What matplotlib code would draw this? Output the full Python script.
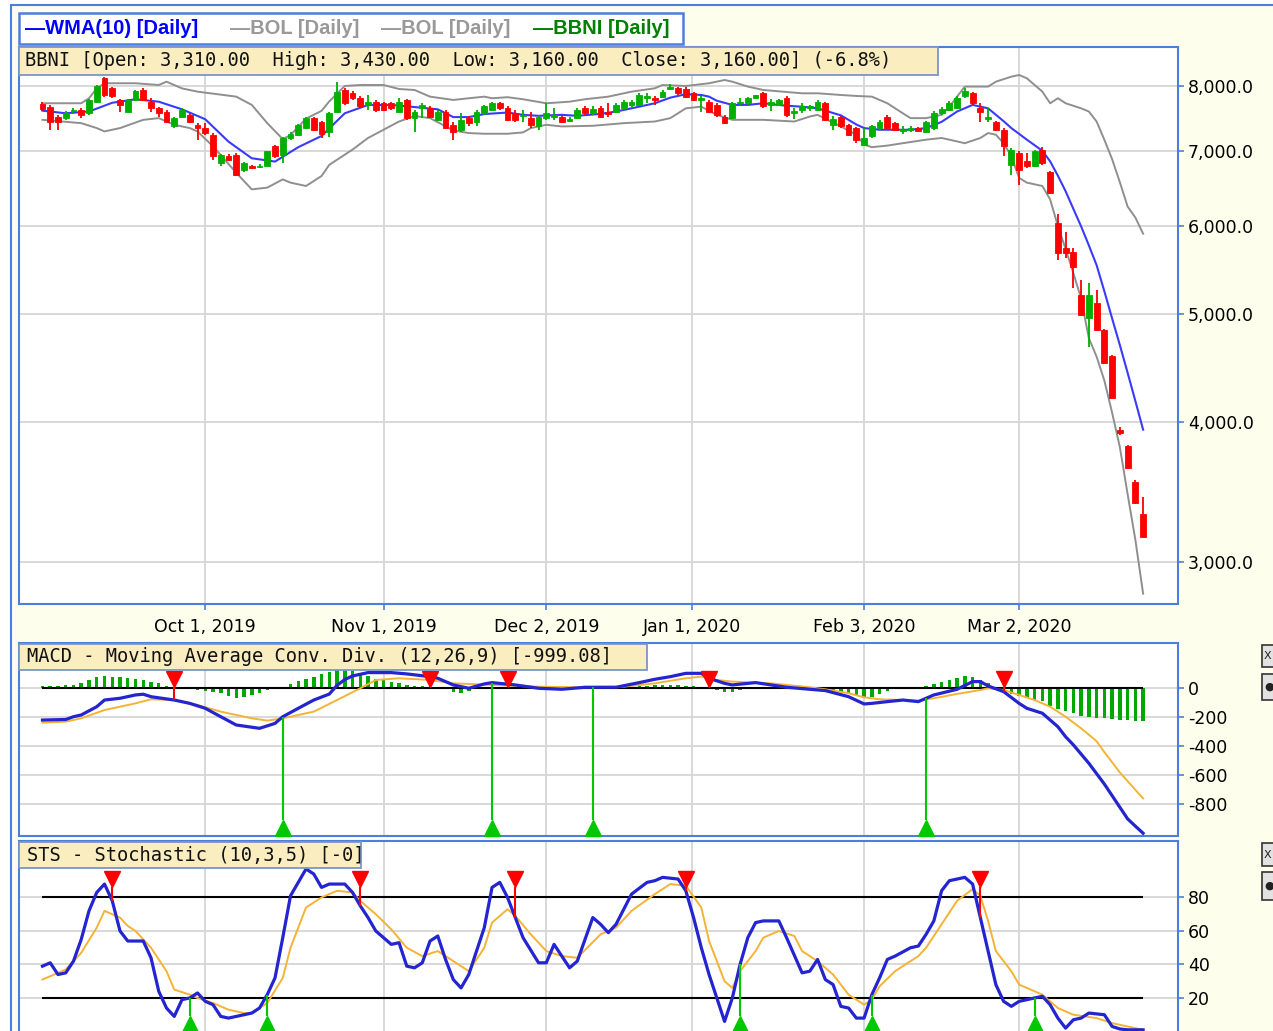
import numpy as np
import matplotlib
matplotlib.use("Agg")
import matplotlib.pyplot as plt
from matplotlib.patches import Rectangle
from matplotlib.ticker import NullLocator

W, H = 1273, 1031

# ---- daily candles (BBNI), one per trading day ----
opens = [7710, 7660, 7510, 7490, 7600, 7615, 7570, 7745, 8130, 7960,
         7770, 7590, 7770, 7930, 7745, 7640, 7590, 7360, 7510, 7540,
         7385, 7335, 7235, 6830, 6920, 6945, 6735, 6790, 6770, 6785,
         7070, 6945, 7180, 7235, 7335, 7490, 7430, 7280, 7590, 7935,
         7880, 7800, 7700, 7745, 7720, 7720, 7590, 7770, 7490, 7650,
         7645, 7460, 7590, 7385, 7310, 7490, 7430, 7570, 7615, 7720,
         7645, 7570, 7520, 7490, 7360, 7490, 7510, 7510, 7440, 7490,
         7645, 7570, 7645, 7580, 7590, 7640, 7700, 7695, 7800, 7800,
         7820, 7950, 7960, 7950, 7880, 7780, 7745, 7695, 7510, 7490,
         7720, 7720, 7810, 7880, 7700, 7700, 7800, 7560, 7620, 7640,
         7620, 7720, 7385, 7510, 7385, 7335, 7090, 7220, 7335, 7510,
         7410, 7290, 7300, 7330, 7280, 7335, 7570, 7615, 7645, 7830,
         7880, 7645, 7480, 7430, 7310, 6800, 6970, 6860, 6790, 7015,
         6700, 6030, 5730, 5680, 5200, 4960, 5110, 4840, 4590, 3940,
         3810, 3540, 3310]
highs = [7740, 7690, 7540, 7600, 7650, 7640, 7790, 8020, 8155, 7990,
         7790, 7790, 7930, 7960, 7800, 7665, 7610, 7510, 7650, 7560,
         7410, 7410, 7260, 6960, 6950, 6970, 6840, 6800, 6810, 7000,
         7090, 7200, 7270, 7400, 7510, 7510, 7450, 7580, 8070, 7960,
         7910, 7830, 7850, 7770, 7740, 7740, 7805, 7790, 7610, 7730,
         7680, 7610, 7610, 7430, 7570, 7520, 7615, 7700, 7745, 7740,
         7670, 7615, 7615, 7590, 7540, 7720, 7645, 7540, 7510, 7640,
         7670, 7670, 7670, 7720, 7720, 7770, 7770, 7880, 7880, 7830,
         7930, 8030, 7990, 7980, 7900, 7830, 7770, 7720, 7530, 7740,
         7800, 7820, 7860, 7900, 7790, 7790, 7830, 7650, 7720, 7700,
         7770, 7740, 7520, 7540, 7400, 7350, 7335, 7385, 7460, 7540,
         7430, 7360, 7360, 7350, 7450, 7600, 7660, 7750, 7830, 7960,
         7900, 7720, 7645, 7450, 7335, 7040, 7000, 6970, 7010, 7050,
         6720, 6140, 5920, 5730, 5360, 5330, 5250, 4850, 4600, 3960,
         3820, 3550, 3430]
lows = [7600, 7310, 7300, 7460, 7550, 7490, 7540, 7730, 7820, 7800,
        7590, 7580, 7760, 7760, 7590, 7510, 7410, 7335, 7490, 7410,
        7160, 7235, 6875, 6785, 6860, 6640, 6700, 6740, 6760, 6780,
        6900, 6830, 7160, 7220, 7320, 7290, 7180, 7200, 7580, 7700,
        7780, 7650, 7615, 7590, 7600, 7620, 7580, 7460, 7280, 7490,
        7490, 7440, 7320, 7160, 7280, 7360, 7360, 7540, 7600, 7620,
        7440, 7430, 7430, 7335, 7310, 7460, 7460, 7410, 7430, 7470,
        7540, 7540, 7490, 7510, 7570, 7620, 7650, 7680, 7720, 7700,
        7800, 7940, 7860, 7800, 7760, 7590, 7570, 7510, 7390, 7470,
        7700, 7700, 7800, 7650, 7600, 7680, 7510, 7480, 7570, 7600,
        7600, 7440, 7310, 7330, 7210, 7110, 7070, 7180, 7310, 7320,
        7290, 7250, 7270, 7280, 7260, 7310, 7540, 7600, 7630, 7810,
        7700, 7430, 7430, 7290, 6920, 6665, 6530, 6750, 6770, 6800,
        6400, 5590, 5610, 5280, 4980, 4670, 4830, 4510, 4200, 3900,
        3630, 3380, 3160]
closes = [7630, 7430, 7430, 7570, 7615, 7540, 7770, 8000, 7850, 7830,
          7690, 7770, 7910, 7770, 7640, 7560, 7430, 7490, 7615, 7430,
          7335, 7260, 6920, 6945, 6875, 6665, 6830, 6750, 6790, 6990,
          6920, 7180, 7250, 7385, 7490, 7310, 7250, 7560, 7905, 7720,
          7800, 7670, 7740, 7615, 7615, 7640, 7745, 7490, 7590, 7700,
          7510, 7590, 7335, 7280, 7460, 7415, 7590, 7670, 7720, 7640,
          7460, 7460, 7540, 7385, 7510, 7570, 7540, 7430, 7470, 7615,
          7570, 7630, 7510, 7550, 7695, 7745, 7740, 7855, 7840, 7770,
          7905, 7990, 7880, 7825, 7775, 7800, 7590, 7540, 7410, 7720,
          7740, 7800, 7850, 7670, 7745, 7770, 7540, 7600, 7680, 7670,
          7740, 7460, 7470, 7360, 7235, 7160, 7180, 7360, 7430, 7335,
          7310, 7320, 7330, 7290, 7430, 7570, 7630, 7720, 7805, 7925,
          7720, 7590, 7500, 7310, 7070, 7015, 6735, 6790, 6990, 6830,
          6420, 5670, 5670, 5510, 4990, 5200, 4840, 4520, 4210, 3910,
          3640, 3390, 3160]

# ---- overlays (trading-day index, value) ----
wma_day = [0, 3, 6, 9, 12, 15, 18, 21, 24, 27, 30, 33, 36, 39, 42, 45, 48, 51, 53, 55,
           57, 60, 62, 64, 67, 69, 72, 74, 76, 79, 81, 83, 85, 86, 87, 89, 91, 93, 96, 98,
           100, 103, 105, 106, 108, 112, 114, 116, 118, 120, 122, 124, 125, 127, 129, 130,
           131, 132, 133, 134, 135, 136, 137, 138, 139, 140, 141, 142]
wma_val = [7603, 7562, 7590, 7728, 7784, 7745, 7624, 7470, 7133, 6893, 6846, 7052, 7217, 7562,
           7693, 7693, 7660, 7624, 7503, 7503, 7550, 7574, 7538, 7523, 7538, 7523, 7553, 7590,
           7640, 7720, 7810, 7865, 7853, 7826, 7760, 7694, 7694, 7720, 7680, 7666, 7640, 7530,
           7390, 7335, 7310, 7310, 7335, 7430, 7590, 7694, 7640, 7440, 7335, 7162, 7000, 6850,
           6650, 6440, 6210, 5990, 5760, 5530, 5240, 4955, 4690, 4430, 4180, 3940]

bol_up_day = [0, 5, 6, 7, 8, 12, 15, 16, 18, 20, 25, 27, 29, 31, 32, 34, 36, 37, 39, 41,
              44, 46, 48, 50, 53, 55, 57, 58, 60, 62, 65, 68, 70, 73, 76, 79, 80, 83, 86, 88,
              89, 91, 93, 98, 100, 103, 105, 107, 109, 111, 112, 114, 116, 117, 119, 122, 123,
              125, 126, 127, 129, 130, 131, 132, 134, 135, 136, 137, 138, 139, 140, 141, 142]
bol_up_val = [7720, 7720, 7800, 7960, 8045, 8045, 8016, 8071, 7960, 7907, 7826, 7694, 7410, 7170,
              7230, 7480, 7600, 7750, 8000, 8016, 8016, 7950, 7934, 7826, 7773, 7800, 7826, 7800,
              7817, 7784, 7720, 7745, 7784, 7826, 7907, 7962, 8016, 8000, 8045, 8099, 8071, 7990,
              7934, 7880, 7880, 7853, 7837, 7826, 7720, 7562, 7487, 7487, 7538, 7666, 7990, 7990,
              8071, 8155, 8183, 8128, 7907, 7720, 7800, 7720, 7640, 7590, 7435, 7160, 6880, 6560,
              6240, 6100, 5900]

bol_lo_day = [0, 5, 7, 8, 10, 13, 15, 17, 19, 20, 22, 25, 27, 29, 31, 32, 34, 36, 37, 40,
              42, 44, 46, 48, 50, 53, 55, 57, 60, 62, 63, 65, 67, 71, 75, 79, 81, 83, 85, 87,
              89, 93, 97, 99, 100, 103, 105, 106, 107, 109, 111, 114, 116, 117, 119, 121, 122,
              123, 124, 125, 126, 127, 129, 130, 131, 132, 133, 134, 135, 136, 137, 138, 139,
              140, 141, 142]
bol_lo_val = [7461, 7410, 7335, 7285, 7335, 7461, 7487, 7385, 7335, 7285, 7064, 6690, 6465, 6488,
              6599, 6555, 6510, 6645, 6800, 7017, 7187, 7310, 7435, 7520, 7487, 7300, 7260, 7250,
              7250, 7270, 7335, 7385, 7360, 7370, 7410, 7435, 7487, 7640, 7666, 7538, 7461, 7461,
              7435, 7512, 7538, 7360, 7236, 7089, 7052, 7075, 7110, 7162, 7187, 7162, 7110, 7187,
              7260, 7236, 7110, 6920, 6620, 6555, 6510, 6334, 5995, 5718, 5440, 5162, 4757, 4580,
              4360, 4080, 3800, 3450, 3140, 2810]

# ---- MACD (12,26,9) ----
macd_hist = [15, 15, 18, 20, 25, 35, 57, 76, 85, 80,
             76, 69, 62, 57, 46, 34, 16, -2, -5, -8,
             -12, -16, -25, -35, -50, -65, -62, -48, -32, -15,
             -3, 10, 30, 50, 65, 80, 95, 115, 125, 126,
             118, 100, 85, 65, 55, 45, 35, 25, 18, 15,
             8, 2, -5, -25, -30, -20, -8, -2, 2, 4,
             3, -2, -3, -2, -1, -2, -3, -2, 0, 1,
             2, 3, 2, 3, 4, 5, 10, 15, 18, 20,
             22, 22, 20, 18, 15, 8, 0, -10, -25, -25,
             -10, -3, 2, 3, 2, 0, -2, -3, -2, -3,
             -5, -10, -16, -25, -40, -52, -65, -58, -38, -20,
             -8, -2, 0, 3, 15, 32, 45, 60, 70, 85,
             76, 57, 34, 10, -20, -40, -52, -65, -78, -90,
             -120, -145, -160, -172, -192, -198, -205, -207, -215, -218,
             -222, -223, -223]
macd_day = [0, 3, 4, 5, 7, 8, 10, 12, 13, 14, 17, 19, 21, 23, 25, 28, 30, 31, 33, 35,
            37, 38, 39, 40, 42, 45, 47, 50, 51, 53, 55, 57, 58, 61, 64, 67, 70, 74, 77, 79,
            81, 83, 85, 86, 88, 89, 92, 94, 96, 99, 101, 104, 106, 107, 109, 111, 113, 114,
            115, 118, 120, 121, 122, 124, 126, 127, 129, 131, 132, 133, 135, 137, 139, 140,
            141, 142]
macd_val = [-219, -215, -196, -184, -127, -81, -69, -46, -41, -58, -81, -104, -138, -196, -253,
            -276, -242, -196, -138, -81, -40, 20, 60, 85, 108, 108, 99, 80, 69, 23, 0, 30, 39,
            23, 0, -7, 7, 7, 39, 62, 80, 103, 103, 69, 34, 23, 39, 23, 7, -7, -16, -58, -108,
            -104, -92, -81, -92, -69, -46, -7, 46, 46, 16, -23, -104, -138, -172, -265, -334,
            -390, -517, -660, -820, -900, -950, -999]
sig_day = [0, 3, 5, 8, 12, 14, 17, 20, 23, 27, 29, 31, 35, 38, 41, 43, 46, 50, 53, 58,
           64, 69, 75, 79, 83, 85, 87, 89, 94, 99, 101, 104, 106, 108, 111, 113, 115, 118,
           121, 122, 124, 126, 128, 130, 132, 134, 135, 136, 137, 138, 139, 140, 141, 142]
sig_val = [-237, -230, -207, -150, -104, -76, -81, -115, -161, -207, -223, -207, -161, -81, 0,
           57, 69, 57, 34, 23, 11, 7, 11, 34, 69, 80, 57, 46, 34, 7, -7, -34, -62, -76, -81,
           -85, -69, -39, -12, 0, -12, -46, -81, -127, -196, -276, -320, -365, -440, -510,
           -580, -640, -700, -759]
macd_sell = [17, 50, 60, 86, 124]
macd_buy = [31, 58, 71, 114]

# ---- Stochastic (10,3,5) ----
k_day = [0, 1, 2, 3, 4, 5, 6, 7, 8, 9, 10, 11, 13, 14, 15, 16, 17, 18, 19, 20, 21, 22, 23, 24,
         26, 27, 28, 29, 30, 31, 32, 34, 35, 36, 37, 39, 40, 41, 42, 43, 44, 45, 46, 47, 48,
         49, 50, 51, 52, 53, 54, 55, 57, 58, 59, 60, 61, 62, 64, 65, 66, 67, 68, 69, 71, 72,
         73, 74, 76, 78, 79, 80, 82, 83, 84, 85, 86, 88, 89, 90, 91, 92, 93, 95, 96, 98, 99,
         100, 101, 102, 103, 104, 105, 106, 107, 108, 109, 110, 112, 113, 114, 115, 116, 117,
         119, 120, 121, 122, 123, 124, 125, 126, 127, 129, 130, 131, 132, 133, 134, 135, 137,
         138, 139, 140, 142]
k_val = [39, 41, 34, 35, 42, 55, 72, 83, 88, 78, 60, 54, 54, 44, 24, 14, 9, 19, 20, 23, 18, 16,
         9, 8, 10, 11, 14, 22, 32, 56, 81, 97, 94, 86, 88, 88, 83, 75, 68, 60, 56, 52, 53, 39,
         38, 41, 54, 57, 43, 31, 26, 34, 62, 86, 89, 80, 68, 56, 41, 41, 52, 45, 38, 42, 68,
         64, 59, 64, 82, 89, 90, 92, 91, 84, 68, 50, 34, 6, 20, 40, 56, 65, 66, 66, 56, 35, 36,
         43, 31, 28, 15, 14, 8, 8, 22, 32, 43, 45, 50, 51, 58, 66, 84, 90, 92, 88, 68, 48, 28,
         18, 15, 18, 19, 21, 16, 8, 2, 7, 8, 11, 10, 3, 1.5, 1, 1]
d_day = [0, 2, 3, 5, 7, 8, 10, 11, 12, 14, 16, 17, 19, 20, 22, 24, 26, 27, 29, 31, 32, 34, 36,
         38, 40, 41, 43, 45, 47, 49, 51, 53, 55, 57, 58, 60, 61, 63, 65, 67, 69, 72, 74, 76,
         79, 81, 83, 85, 86, 88, 89, 90, 92, 93, 95, 97, 98, 100, 102, 104, 106, 107, 108,
         110, 112, 113, 114, 116, 118, 120, 121, 122, 123, 125, 126, 128, 129, 131, 133, 136,
         138, 140, 142]
d_val = [31, 35, 37, 47, 62, 72, 68, 63, 60, 50, 36, 25, 22, 20, 17, 13, 11, 11, 17, 32, 50, 74,
         80, 84, 83, 78, 70, 61, 50, 45, 48, 42, 36, 50, 65, 73, 69, 58, 48, 45, 44, 58, 62, 72,
         82, 88, 87, 74, 54, 30, 26, 36, 48, 56, 60, 57, 48, 42, 34, 22, 16, 19, 27, 36, 42, 45,
         50, 64, 78, 85, 81, 66, 48, 36, 28, 24, 22, 14, 10, 8, 5, 3, 1]
sts_sell = [9, 41, 61, 83, 121]
sts_buy = [19, 29, 90, 107, 128]

# ---- axis labels ----
date_pos = [21, 44, 65, 83.8, 106, 126]
date_labels = ["Oct 1, 2019", "Nov 1, 2019", "Dec 2, 2019", "Jan 1, 2020", "Feb 3, 2020", "Mar 2, 2020"]
price_ticks = [3000, 4000, 5000, 6000, 7000, 8000]
macd_ticks = [0, -200, -400, -600, -800]
sts_ticks = [20, 40, 60, 80]

BLUE = "#4A7FE0"
GRID = "#D6D6D6"
RED = "#FF0000"
GREEN = "#00B000"
BAR_GREEN = "#00A800"
LINE_BLUE = "#2424D0"
ORANGE = "#F5B335"


def px(x0, y0, x1, y1):
    return [x0 / W, 1 - y1 / H, (x1 - x0) / W, (y1 - y0) / H]


def style(ax):
    ax.set_facecolor("white")
    for s in ax.spines.values():
        s.set_color(BLUE)
        s.set_linewidth(1.5)
    ax.yaxis.tick_right()
    ax.tick_params(axis="y", direction="out", length=4, width=1.2, color=BLUE,
                   labelsize=12.5, pad=3)
    ax.set_xlim(-3.03, 146.5)
    ax.set_xticks(date_pos)
    ax.grid(True, color=GRID, lw=1.3)
    ax.set_axisbelow(True)


def signals(ax, days, line_day, line_val, up, center, tip_frac, color):
    lo, hi = ax.get_ylim()
    tip = lo + tip_frac * (hi - lo)
    yv = np.interp(days, line_day, line_val)
    ax.vlines(days, yv, tip, colors=color, lw=1.5, zorder=6)
    ax.plot(days, [center] * len(days), ls="none", marker="^" if up else "v", ms=11,
            color=color, transform=ax.get_xaxis_transform(), zorder=7, clip_on=False)


fig = plt.figure(figsize=(W / 100, H / 100), dpi=100, facecolor="white")
fig.patches.append(Rectangle((11 / W, -0.05), 1.0, 1.05 - 5 / H, transform=fig.transFigure,
                             fc="#FEFEEC", ec=BLUE, lw=1.5, zorder=-10))

ax1 = fig.add_axes(px(19, 47, 1178, 604))
ax2 = fig.add_axes(px(19, 643, 1178, 836))
ax3 = fig.add_axes(px(19, 841, 1178, 1033))

# ---- price panel ----
style(ax1)
ax1.set_yscale("log")
ax1.set_ylim(2751, 8669)
ax1.set_yticks(price_ticks)
ax1.set_yticklabels([f"{v:,.1f}" for v in price_ticks])
ax1.yaxis.set_minor_locator(NullLocator())
ax1.set_xticklabels(date_labels)
ax1.tick_params(axis="x", direction="out", length=4, width=1.2, color=BLUE, labelsize=12.5, pad=6)

ax1.plot(bol_up_day, bol_up_val, color="#8F8F8F", lw=1.4, zorder=2)
ax1.plot(bol_lo_day, bol_lo_val, color="#8F8F8F", lw=1.4, zorder=2)
ax1.plot(wma_day, wma_val, color="#3A3AFF", lw=1.5, zorder=2)

o = np.array(opens, float)
c = np.array(closes, float)
x = np.arange(len(c))
col = np.where(c >= o, GREEN, RED)
ax1.vlines(x, lows, highs, colors=col, lw=1.3, zorder=3)
ax1.bar(x, np.abs(c - o), bottom=np.minimum(o, c), width=0.75, color=col,
        edgecolor=col, lw=0.6, zorder=4)

# ---- MACD panel ----
style(ax2)
ax2.set_ylim(-1018, 312)
ax2.set_yticks(macd_ticks)
ax2.set_yticklabels([str(v) for v in macd_ticks])
ax2.tick_params(axis="x", length=0, labelbottom=False)
ax2.bar(x, macd_hist, width=0.45, color=BAR_GREEN, zorder=2)
ax2.hlines(0, 0, len(c) - 1, color="black", lw=1.5, zorder=3)
ax2.plot(sig_day, sig_val, color=ORANGE, lw=1.4, zorder=4)
ax2.plot(macd_day, macd_val, color=LINE_BLUE, lw=2.3, zorder=5)
signals(ax2, macd_sell, macd_day, macd_val, False, 0.813, 0.772, RED)
signals(ax2, macd_buy, macd_day, macd_val, True, 0.041, 0.083, "#00C800")

# ---- Stochastic panel ----
style(ax3)
ax3.set_ylim(-0.9, 113.7)
ax3.set_yticks(sts_ticks)
ax3.set_yticklabels([str(v) for v in sts_ticks])
ax3.tick_params(axis="x", length=0, labelbottom=False)
ax3.hlines([20, 80], 0, len(c) - 1, color="black", lw=1.5, zorder=3)
ax3.plot(d_day, d_val, color=ORANGE, lw=1.4, zorder=4)
ax3.plot(k_day, k_val, color=LINE_BLUE, lw=2.3, zorder=5)
signals(ax3, sts_sell, k_day, k_val, False, 0.802, 0.760, RED)
signals(ax3, sts_buy, k_day, k_val, True, 0.047, 0.088, "#00C800")

# ---- legend strip ----
fig.patches.append(Rectangle((19 / W, 1 - 44 / H), (683 - 19) / W, 31 / H, transform=fig.transFigure,
                             fc="white", ec=BLUE, lw=1.8, zorder=5))
legend_items = [("\u2014WMA(10) [Daily]", "#0000FF", 25), ("\u2014BOL [Daily]", "#999999", 230),
                ("\u2014BOL [Daily]", "#999999", 381), ("\u2014BBNI [Daily]", "#008000", 533)]
for txt, color, xp in legend_items:
    fig.text(xp / W, 1 - 29 / H, txt, color=color, fontsize=14.5, fontweight="bold",
             family=["Liberation Sans", "DejaVu Sans"], va="center", ha="left", zorder=6)

# ---- panel headers ----
pct = (closes[-1] - closes[-2]) / closes[-2] * 100
headers = [
    (f"BBNI [Open: {opens[-1]:,.2f}  High: {highs[-1]:,.2f}  Low: {lows[-1]:,.2f}  "
     f"Close: {closes[-1]:,.2f}] ({pct:.1f}%)", (19, 47, 938, 75), 25),
    ("MACD - Moving Average Conv. Div. (12,26,9) [-999.08]", (19, 644, 647, 670), 27),
    ("STS - Stochastic (10,3,5) [-0]", (19, 842, 361, 868), 27),
]
for txt, (x0, y0, x1, y1), tx in headers:
    fig.patches.append(Rectangle((x0 / W, 1 - y1 / H), (x1 - x0) / W, (y1 - y0) / H,
                                 transform=fig.transFigure, fc="#FAEDC0", ec="#7A96C8",
                                 lw=1.3, zorder=5))
    fig.text(tx / W, 1 - (y0 + y1) / 2 / H, txt, fontsize=13.5, family="DejaVu Sans Mono",
             color="#111111", va="center", ha="left", zorder=6)

# ---- small panel buttons on the right edge ----
for y0, y1, glyph in [(645, 667, "X"), (674, 700, "\u25CF"), (843, 866, "X"), (872, 900, "\u25CF")]:
    fig.patches.append(Rectangle((1262 / W, 1 - y1 / H), 24 / W, (y1 - y0) / H,
                                 transform=fig.transFigure, fc="#E2E2E2", ec="#333333",
                                 lw=1.2, zorder=5))
    fig.text(1264 / W, 1 - (y0 + y1) / 2 / H, glyph, fontsize=8, color="#222222",
             va="center", ha="left", zorder=6)

fig.savefig("out.png", dpi=100, facecolor=fig.get_facecolor())
